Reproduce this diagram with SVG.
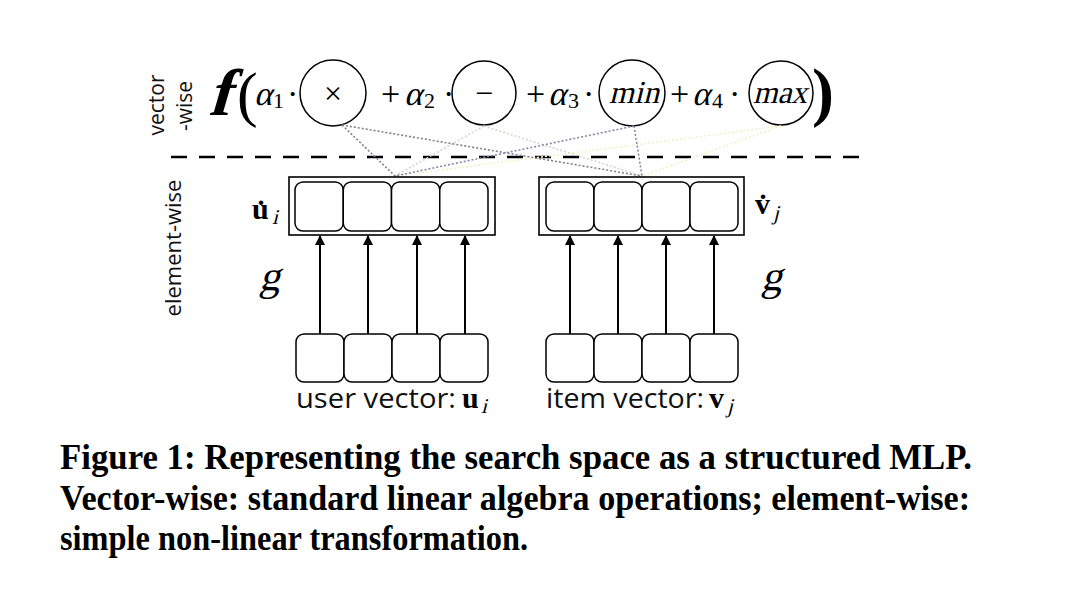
<svg xmlns="http://www.w3.org/2000/svg" width="1080" height="606" viewBox="0 0 1080 606">
<style>
.math{font-family:"Liberation Serif","DejaVu Serif",serif;fill:#000}
.sans{font-family:"Open Sans","Liberation Sans",sans-serif;fill:#111}
.op{fill:#fff;stroke:#000;stroke-width:1.5}
.cell{fill:#fff;stroke:#000;stroke-width:1.5}
.outer{fill:none;stroke:#000;stroke-width:1.6}
.arrow{stroke:#000;stroke-width:2;fill:none;marker-end:url(#ah)}
.dot{fill:none;stroke-width:1.6;stroke-dasharray:2 2}
.cap{font-family:"Liberation Serif","Times New Roman",serif;font-weight:bold;font-size:35px;fill:#000}
</style>
<defs>
<marker id="ah" viewBox="0 0 10 10" refX="9" refY="5" markerWidth="5" markerHeight="5" orient="auto" markerUnits="strokeWidth">
<path d="M0,0 L10,5 L0,10 z" fill="#000"/>
</marker>
</defs>
<rect width="1080" height="606" fill="#fff"/>

<g id="label-vectorwise">
<text class="sans" font-size="21" transform="translate(164,105) rotate(-90)" text-anchor="middle">vector</text>
<text class="sans" font-size="21" transform="translate(192,106) rotate(-90)" text-anchor="middle">-wise</text>
</g>
<g id="label-elementwise">
<text class="sans" font-size="22" transform="translate(181,248) rotate(-90)" text-anchor="middle">element-wise</text>
</g>

<g id="formula">
<text class="math" font-weight="bold" font-size="66" transform="translate(208,115) skewX(-16)">f</text>
<text class="math" font-size="62" x="237" y="115">(</text>
<text class="math" font-size="34" transform="translate(254,105) skewX(-14)">α</text>
<text class="math" font-size="22" x="273" y="108">1</text>
<text class="math" font-size="34" x="287" y="105">·</text>
<text class="math" font-size="34" x="381" y="105">+</text>
<text class="math" font-size="34" transform="translate(404,105) skewX(-14)">α</text>
<text class="math" font-size="22" x="424" y="108">2</text>
<text class="math" font-size="34" x="443" y="105">·</text>
<text class="math" font-size="34" x="526" y="105">+</text>
<text class="math" font-size="34" transform="translate(548,105) skewX(-14)">α</text>
<text class="math" font-size="22" x="568" y="108">3</text>
<text class="math" font-size="34" x="583" y="105">·</text>
<text class="math" font-size="34" x="670" y="105">+</text>
<text class="math" font-size="34" transform="translate(692,105) skewX(-14)">α</text>
<text class="math" font-size="22" x="712" y="108">4</text>
<text class="math" font-size="34" x="729" y="105">·</text>
<text class="math" font-weight="bold" font-size="66" x="812" y="114">)</text>
</g>

<g id="op-mul">
<circle class="op" cx="333" cy="93" r="33"/>
<text class="math" font-size="32" x="333" y="104" text-anchor="middle">×</text>
</g>
<g id="op-sub">
<circle class="op" cx="484" cy="93" r="32"/>
<text class="math" font-size="32" x="484" y="104" text-anchor="middle">−</text>
</g>
<g id="op-min">
<circle class="op" cx="632" cy="93" r="33"/>
<text class="math" font-size="32" text-anchor="middle" transform="translate(634,103) skewX(-14)">min</text>
</g>
<g id="op-max">
<circle class="op" cx="781" cy="93" r="32"/>
<text class="math" font-size="32" text-anchor="middle" textLength="54" lengthAdjust="spacingAndGlyphs" transform="translate(780,103) skewX(-14)">max</text>
</g>

<line x1="171" y1="157" x2="866" y2="157" stroke="#000" stroke-width="2.5" stroke-dasharray="16 12"/>

<g id="connectors">
<path class="dot" stroke="#f3f0c8" d="M781,126 L395,176 M781,126 L642,176"/>
<path class="dot" stroke="#e2cfcf" d="M484,126 L395,176 M484,126 L642,176"/>
<path class="dot" stroke="#80808f" d="M342,125 L395,176 M342,125 L642,176"/>
<path class="dot" stroke="#8888a4" d="M634,126 L395,176 M634,126 L642,176"/>
<line class="arrow" x1="320" y1="334" x2="320" y2="236"/>
<line class="arrow" x1="368" y1="334" x2="368" y2="236"/>
<line class="arrow" x1="417" y1="334" x2="417" y2="236"/>
<line class="arrow" x1="465" y1="334" x2="465" y2="236"/>
<line class="arrow" x1="570" y1="334" x2="570" y2="236"/>
<line class="arrow" x1="618" y1="334" x2="618" y2="236"/>
<line class="arrow" x1="666" y1="334" x2="666" y2="236"/>
<line class="arrow" x1="714" y1="334" x2="714" y2="236"/>
</g>

<g id="user-hidden">
<rect class="outer" x="289" y="177" width="206" height="58"/>
<rect class="cell" x="295" y="182" width="48.25" height="49" rx="8"/>
<rect class="cell" x="343.25" y="182" width="48.25" height="49" rx="8"/>
<rect class="cell" x="391.5" y="182" width="48.25" height="49" rx="8"/>
<rect class="cell" x="439.75" y="182" width="48.25" height="49" rx="8"/>
<text class="math" font-weight="bold" font-size="30"><tspan x="252" y="219">u</tspan><tspan x="256" y="221">˙</tspan></text>
<text class="math" font-size="21" transform="translate(272,224) skewX(-14)">i</text>
<text class="math" font-size="42" transform="translate(259,290) skewX(-14)">g</text>
</g>

<g id="item-hidden">
<rect class="outer" x="539" y="177" width="205" height="58"/>
<rect class="cell" x="546" y="182" width="48" height="49" rx="8"/>
<rect class="cell" x="594" y="182" width="48" height="49" rx="8"/>
<rect class="cell" x="642" y="182" width="48" height="49" rx="8"/>
<rect class="cell" x="690" y="182" width="48" height="49" rx="8"/>
<text class="math" font-weight="bold" font-size="30"><tspan x="755" y="214">v</tspan><tspan x="758" y="215">˙</tspan></text>
<text class="math" font-size="21" transform="translate(773,220) skewX(-14)">j</text>
<text class="math" font-size="42" transform="translate(761,290) skewX(-14)">g</text>
</g>

<g id="user-vector">
<rect class="cell" x="296" y="334" width="48" height="48" rx="8"/>
<rect class="cell" x="344" y="334" width="48" height="48" rx="8"/>
<rect class="cell" x="392" y="334" width="48" height="48" rx="8"/>
<rect class="cell" x="440" y="334" width="48" height="48" rx="8"/>
<text class="sans" font-size="27" x="296" y="408" textLength="160" lengthAdjust="spacingAndGlyphs">user vector:</text>
<text class="math" font-weight="bold" font-size="30" x="462" y="408">u</text>
<text class="math" font-size="21" transform="translate(481,413) skewX(-14)">i</text>
</g>

<g id="item-vector">
<rect class="cell" x="546" y="334" width="48" height="48" rx="8"/>
<rect class="cell" x="594" y="334" width="48" height="48" rx="8"/>
<rect class="cell" x="642" y="334" width="48" height="48" rx="8"/>
<rect class="cell" x="690" y="334" width="48" height="48" rx="8"/>
<text class="sans" font-size="27" x="546" y="408" textLength="158" lengthAdjust="spacingAndGlyphs">item vector:</text>
<text class="math" font-weight="bold" font-size="30" x="709" y="408">v</text>
<text class="math" font-size="21" transform="translate(727,413) skewX(-14)">j</text>
</g>

<g id="caption">
<text class="cap" x="60" y="469" textLength="912" lengthAdjust="spacingAndGlyphs">Figure 1: Representing the search space as a structured MLP.</text>
<text class="cap" x="60" y="510" textLength="910" lengthAdjust="spacingAndGlyphs">Vector-wise: standard linear algebra operations; element-wise:</text>
<text class="cap" x="60" y="550" textLength="468" lengthAdjust="spacingAndGlyphs">simple non-linear transformation.</text>
</g>
</svg>
